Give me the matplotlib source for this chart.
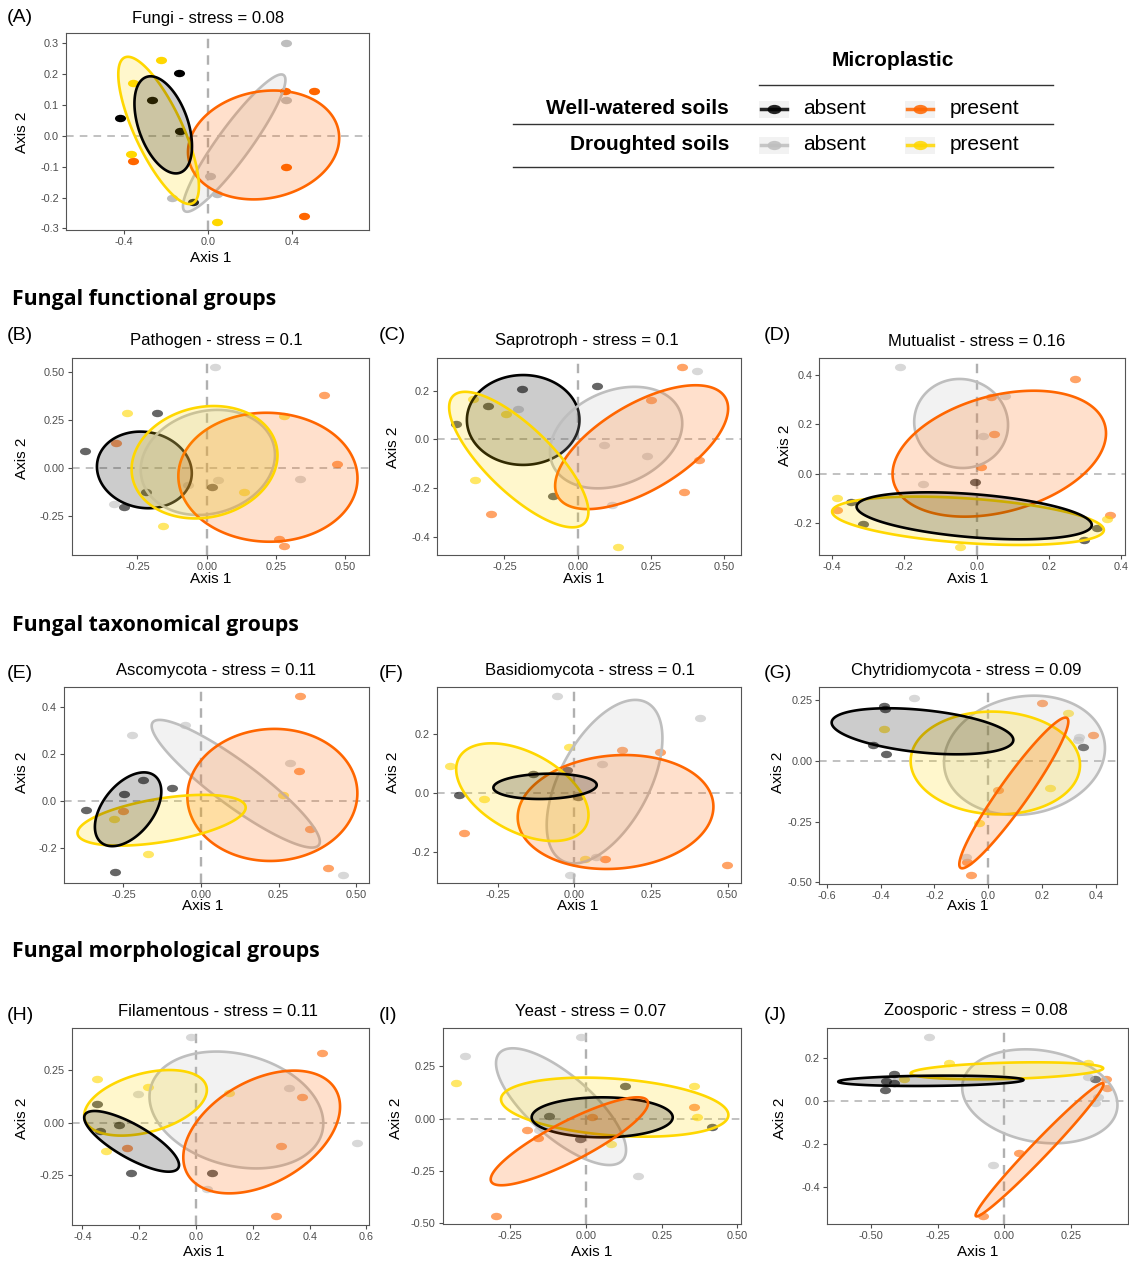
import numpy as np
import matplotlib
matplotlib.use("Agg")
import matplotlib.pyplot as plt
from matplotlib.path import Path
from matplotlib.colors import to_rgba
from matplotlib.patches import Rectangle
from matplotlib import font_manager

# ---------------- data ----------------
# groups: WA = well-watered/absent, WP = well-watered/present,
#         DA = droughted/absent,    DP = droughted/present
# ellipses: (group, centre x, centre y, x half-extent, y half-extent, y-offset of rightmost point)

A_WA = [(-0.419, 0.057), (-0.138, 0.202), (-0.265, 0.116), (-0.133, 0.014), (-0.073, -0.214)]
A_DA = [(0.371, 0.300), (0.371, 0.114), (0.010, -0.129), (-0.170, -0.202), (0.044, -0.190)]
A_DP = [(-0.225, 0.245), (-0.359, 0.170), (-0.368, -0.058), (0.041, -0.278)]
A_WP = [(-0.359, -0.083), (0.367, 0.144), (0.505, 0.144), (0.371, -0.101), (0.459, -0.260)]
A_ELL = [("DA", 0.125, -0.024, 0.244, 0.222, 0.204),
         ("WP", 0.265, -0.030, 0.360, 0.176, 0.023),
         ("DP", -0.235, 0.017, 0.192, 0.238, -0.181),
         ("WA", -0.213, 0.035, 0.137, 0.157, -0.069)]

B_WA = [(-0.4375, 0.090), (-0.180, 0.286), (-0.220, -0.127), (-0.299, -0.203), (0.019, -0.099)]
B_DA = [(0.031, 0.527), (-0.333, -0.185), (0.042, -0.062), (0.337, -0.059), (-0.066, -0.090)]
B_DP = [(-0.287, 0.286), (-0.159, -0.300), (0.136, -0.127), (0.280, 0.270)]
B_WP = [(-0.327, 0.130), (0.421, 0.378), (0.469, 0.021), (0.260, -0.367), (0.279, -0.406)]
B_ELL = [("WA", -0.225, -0.010, 0.171, 0.199, -0.017),
         ("DA", 0.004, 0.029, 0.242, 0.273, 0.039),
         ("WP", 0.2205, -0.048, 0.323, 0.335, -0.006),
         ("DP", -0.008, 0.030, 0.263, 0.292, 0.037)]

C_WA = [(-0.191, 0.206), (-0.3045, 0.139), (-0.415, 0.063), (-0.085, -0.232), (0.067, 0.220)]
C_DA = [(-0.203, 0.126), (0.408, 0.281), (0.090, -0.021), (0.235, -0.067), (0.116, -0.270)]
C_DP = [(-0.356, 0.166), (-0.245, 0.104), (-0.349, -0.166), (0.139, -0.442)]
C_WP = [(0.356, 0.299), (0.250, 0.161), (0.414, -0.084), (0.3625, -0.218), (-0.297, -0.307)]
C_ELL = [("WA", -0.186, 0.080, 0.192, 0.185, 0.0),
         ("DA", 0.131, 0.0075, 0.2256, 0.209, 0.058),
         ("WP", 0.218, -0.032, 0.295, 0.255, 0.159),
         ("DP", -0.201, -0.083, 0.2375, 0.279, -0.215)]

D_WA = [(-0.348, -0.116), (-0.315, -0.2045), (-0.004, -0.032), (0.298, -0.268), (0.332, -0.219)]
D_DA = [(-0.2106, 0.432), (0.077, 0.313), (0.017, 0.152), (-0.149, -0.042)]
D_DP = [(-0.385, -0.0996), (-0.047, -0.295), (0.360, -0.182)]
D_WP = [(0.272, 0.383), (0.039, 0.311), (0.048, 0.159), (0.012, 0.028), (-0.385, -0.147), (0.369, -0.167)]
D_ELL = [("DA", -0.043, 0.2025, 0.1297, 0.1796, -0.006),
         ("WP", 0.0625, 0.0807, 0.295, 0.254, 0.082),
         ("DP", -0.024, -0.190, 0.3756, 0.0975, -0.037),
         ("WA", -0.0069, -0.170, 0.325, 0.0948, -0.037)]

E_WA = [(-0.372, -0.040), (-0.249, 0.028), (-0.186, 0.0865), (-0.0946, 0.054), (-0.277, -0.302)]
E_DA = [(-0.2235, 0.281), (-0.0516, 0.3234), (0.287, 0.162), (0.4566, -0.318)]
E_DP = [(-0.280, -0.078), (-0.170, -0.227), (0.263, 0.024)]
E_WP = [(0.318, 0.445), (0.316, 0.126), (-0.250, -0.044), (0.351, -0.1206), (0.410, -0.289)]
E_ELL = [("DA", 0.112, 0.0716, 0.271, 0.2716, -0.246),
         ("WP", 0.230, 0.024, 0.274, 0.281, 0.007),
         ("DP", -0.127, -0.0837, 0.271, 0.108, 0.054),
         ("WA", -0.235, -0.037, 0.107, 0.157, 0.075)]

F_WA = [(-0.3766, -0.0079), (-0.134, 0.0633), (-0.024, 0.077), (0.013, -0.0136)]
F_DA = [(-0.0577, 0.328), (0.410, 0.254), (0.089, 0.096), (0.0708, -0.217), (-0.013, -0.280)]
F_DP = [(-0.406, 0.090), (-0.294, -0.0215), (-0.016, 0.155), (0.035, -0.225)]
F_WP = [(-0.359, -0.138), (0.157, 0.145), (0.280, 0.138), (0.100, -0.224), (0.4996, -0.244)]
F_ELL = [("DA", 0.0985, 0.0373, 0.1889, 0.277, 0.147),
         ("WP", 0.1344, -0.0655, 0.3195, 0.193, 0.018),
         ("DP", -0.170, 0.0017, 0.216, 0.1655, -0.0774),
         ("WA", -0.0958, 0.0215, 0.1687, 0.0429, 0.0045)]

G_WA = [(-0.3876, 0.2284), (-0.383, 0.215), (-0.427, 0.066), (-0.380, 0.030), (0.353, 0.059)]
G_DA = [(-0.275, 0.260), (0.338, 0.100), (0.335, 0.088), (-0.083, -0.395)]
G_DP = [(-0.389, 0.132), (0.297, 0.1995), (0.229, -0.110), (-0.033, -0.2546)]
G_WP = [(0.2006, 0.241), (0.390, 0.106), (0.037, -0.118), (-0.0805, -0.4156), (-0.064, -0.472)]
G_ELL = [("DA", 0.1344, 0.0234, 0.299, 0.246, 0.029),
         ("DP", 0.026, -0.0083, 0.3146, 0.212, -0.0083),
         ("WA", -0.2446, 0.1225, 0.3375, 0.095, -0.0358),
         ("WP", 0.0947, -0.132, 0.2025, 0.311, 0.2945)]

H_WA = [(-0.3486, 0.0873), (-0.270, -0.0095), (-0.338, -0.038), (-0.229, -0.238), (0.055, -0.238)]
H_DA = [(-0.0176, 0.4095), (-0.203, 0.135), (0.326, 0.1635), (0.566, -0.095), (0.040, -0.317)]
H_DP = [(-0.3486, 0.206), (-0.171, 0.168), (-0.318, -0.133), (0.117, 0.141)]
H_WP = [(0.4425, 0.332), (0.374, 0.122), (-0.244, -0.119), (0.299, -0.111), (0.283, -0.444)]
H_ELL = [("DA", 0.142, 0.0603, 0.306, 0.278, -0.0635),
         ("WP", 0.231, -0.0444, 0.276, 0.292, 0.1206),
         ("DP", -0.178, 0.0944, 0.216, 0.156, 0.061),
         ("WA", -0.227, -0.0889, 0.167, 0.1444, -0.1127)]

I_WA = [(-0.122, 0.0127), (0.129, 0.156), (-0.0198, -0.0987), (0.415, -0.038)]
I_DA = [(-0.0176, 0.392), (-0.400, 0.301), (0.171, -0.274), (-0.155, -0.055)]
I_DP = [(-0.4295, 0.172), (0.357, 0.158), (0.368, 0.0096), (0.0826, -0.1226)]
I_WP = [(0.358, 0.0573), (0.0187, 0.0096), (-0.196, -0.054), (-0.1575, -0.0908), (-0.297, -0.4666)]
I_ELL = [("DA", -0.0826, 0.0573, 0.2148, 0.2787, -0.207),
         ("DP", 0.0947, 0.055, 0.3756, 0.141, -0.0374),
         ("WA", 0.0534, 0.0064, 0.233, 0.0955, 0.0),
         ("WP", -0.055, -0.108, 0.26, 0.210, 0.1815)]

J_WA = [(-0.444, 0.0897), (-0.414, 0.1237), (-0.448, 0.0495), (-0.414, 0.0835), (0.342, 0.099)]
J_DA = [(-0.283, 0.297), (-0.042, -0.300), (0.3145, 0.108), (0.354, 0.0186), (0.342, -0.0124)]
J_DP = [(-0.208, 0.173), (0.316, 0.173), (-0.377, 0.102)]
J_WP = [(0.055, -0.243), (-0.080, -0.535), (0.384, 0.1005), (0.388, 0.0588)]
J_ELL = [("DA", 0.134, 0.0201, 0.2914, 0.218, -0.040),
         ("DP", 0.0106, 0.1384, 0.3613, 0.0394, 0.0116),
         ("WA", -0.275, 0.092, 0.3476, 0.024, 0.004),
         ("WP", 0.133, -0.228, 0.240, 0.309, 0.3039)]

TITLES = ["Fungi - stress = 0.08", "Pathogen - stress = 0.1", "Saprotroph - stress = 0.1",
          "Mutualist - stress = 0.16", "Ascomycota - stress = 0.11", "Basidiomycota - stress = 0.1",
          "Chytridiomycota - stress = 0.09", "Filamentous - stress = 0.11", "Yeast - stress = 0.07",
          "Zoosporic - stress = 0.08"]
LETTERS = ["(A)", "(B)", "(C)", "(D)", "(E)", "(F)", "(G)", "(H)", "(I)", "(J)"]
SECTIONS = ["Fungal functional groups", "Fungal taxonomical groups", "Fungal morphological groups"]
LEGEND_TITLE = "Microplastic"
LEGEND_ROWS = ["Well-watered soils", "Droughted soils"]
LEGEND_LEVELS = ["absent", "present"]

# ---------------- style / layout ----------------
W, H = 1129, 1261
plt.rcParams['font.family'] = ['Liberation Sans', 'DejaVu Sans']
COLORS = {"WA": "#000000", "WP": "#FF6600", "DA": "#BEBEBE", "DP": "#FFD700"}
TXT = "#4D4D4D"


def pick_bold_family():
    for fam in ["Open Sans", "Noto Sans", "Lato", "Roboto"]:
        try:
            fp = font_manager.FontProperties(family=fam, weight="bold")
            path = font_manager.findfont(fp, fallback_to_default=False)
            f = font_manager.get_font(path)
            name = (f.style_name or "").lower()
            if "bold" in name or "black" in name or "semibold" in name:
                return fam
        except Exception:
            pass
    return "Liberation Sans"


HEAD_FAMILY = pick_bold_family()

# elliptical (wide) point marker like the reference
_c = Path.unit_circle()
EMARK = Path(_c.vertices * np.array([1.5, 1.0]), _c.codes)

# per panel: points, ellipses, axes box px (x0,y0,x1,y1), xlim, ylim, xticks, yticks, decimals,
# title pos, axis1 pos, axis2 pos, letter pos, point alpha
PANELS = [
    (A_WA, A_WP, A_DA, A_DP, A_ELL, (66, 33, 369, 230), (-0.676, 0.767), (-0.305, 0.332),
     [-0.4, 0.0, 0.4], [-0.3, -0.2, -0.1, 0.0, 0.1, 0.2, 0.3], 1, 1,
     (208, 18), (211, 258), (22, 132), (7, 18), 1.0),
    (B_WA, B_WP, B_DA, B_DP, B_ELL, (71.7, 358.3, 369, 555), (-0.487, 0.585), (-0.452, 0.570),
     [-0.25, 0, 0.25, 0.5], [-0.25, 0, 0.25, 0.5], 2, 2,
     (216, 341), (211, 579), (22, 458), (7, 336), 0.6),
    (C_WA, C_WP, C_DA, C_DP, C_ELL, (436.7, 358.3, 741, 555), (-0.481, 0.557), (-0.476, 0.334),
     [-0.25, 0, 0.25, 0.5], [-0.4, -0.2, 0, 0.2], 2, 1,
     (587, 341), (584, 579), (393, 447), (379, 336), 0.6),
    (D_WA, D_WP, D_DA, D_DP, D_ELL, (819.3, 358.3, 1125, 555), (-0.435, 0.41), (-0.328, 0.4655),
     [-0.4, -0.2, 0, 0.2, 0.4], [-0.2, 0, 0.2, 0.4], 1, 1,
     (977, 341), (968, 579), (785, 445), (764, 336), 0.6),
    (E_WA, E_WP, E_DA, E_DP, E_ELL, (64, 687.3, 369, 883.3), (-0.4416, 0.5415), (-0.352, 0.482),
     [-0.25, 0, 0.25, 0.5], [-0.2, 0, 0.2, 0.4], 2, 1,
     (216, 670), (203, 906), (22, 772), (7, 673), 0.6),
    (F_WA, F_WP, F_DA, F_DP, F_ELL, (436.7, 687.3, 741, 883.3), (-0.4496, 0.544), (-0.307, 0.357),
     [-0.25, 0, 0.25, 0.5], [-0.2, 0, 0.2], 2, 1,
     (590, 670), (578, 906), (393, 772), (379, 673), 0.6),
    (G_WA, G_WP, G_DA, G_DP, G_ELL, (819.3, 687.3, 1116.7, 884.3), (-0.628, 0.477), (-0.509, 0.304),
     [-0.6, -0.4, -0.2, 0, 0.2, 0.4], [-0.5, -0.25, 0, 0.25], 1, 2,
     (966, 670), (968, 906), (778, 772), (764, 673), 0.6),
    (H_WA, H_WP, H_DA, H_DP, H_ELL, (71.7, 1028.3, 369, 1225), (-0.438, 0.609), (-0.487, 0.449),
     [-0.4, -0.2, 0, 0.2, 0.4, 0.6], [-0.25, 0, 0.25], 1, 2,
     (218, 1011), (204, 1252), (22, 1118), (7, 1015), 0.6),
    (I_WA, I_WP, I_DA, I_DP, I_ELL, (442.7, 1028.3, 741, 1224), (-0.4736, 0.512), (-0.503, 0.4315),
     [-0.25, 0, 0.25, 0.5], [-0.5, -0.25, 0, 0.25], 2, 2,
     (591, 1011), (592, 1252), (396, 1118), (379, 1015), 0.6),
    (J_WA, J_WP, J_DA, J_DP, J_ELL, (826.7, 1028.3, 1128, 1224.3), (-0.666, 0.465), (-0.5737, 0.3356),
     [-0.5, -0.25, 0, 0.25], [-0.4, -0.2, 0, 0.2], 2, 1,
     (976, 1011), (978, 1252), (780, 1118), (764, 1015), 0.6),
]


def ellipse_xy(cx, cy, rx, ry, k, n=240):
    t = np.linspace(0, 2 * np.pi, n)
    m = np.sqrt(max(ry ** 2 - k ** 2, 0.0))
    return cx + rx * np.cos(t), cy + k * np.cos(t) + m * np.sin(t)


def fmt(v, d):
    s = f"{abs(v):.{d}f}"
    return ("-" + s) if v < -1e-12 else s


fig = plt.figure(figsize=(W / 100, H / 100), dpi=100)
fig.patch.set_facecolor("white")

ov = fig.add_axes([0, 0, 1, 1], zorder=10)
ov.set_xlim(0, W)
ov.set_ylim(H, 0)
ov.axis("off")
ov.patch.set_alpha(0)

for i, p in enumerate(PANELS):
    (wa, wp, da, dp, ells, box, xlim, ylim, xt, yt, dx, dy,
     tpos, a1pos, a2pos, lpos, palpha) = p
    x0, y0, x1, y1 = box
    ax = fig.add_axes([x0 / W, 1 - y1 / H, (x1 - x0) / W, (y1 - y0) / H])
    ax.set_xlim(*xlim)
    ax.set_ylim(*ylim)
    ax.axhline(0, color="#B0B0B0", lw=1.1, ls=(0, (5, 4)), zorder=1)
    ax.axvline(0, color="#B0B0B0", lw=1.7, ls=(0, (4, 3)), zorder=1)
    for key, pts in (("WA", wa), ("WP", wp), ("DA", da), ("DP", dp)):
        xs = [q[0] for q in pts]
        ys = [q[1] for q in pts]
        ax.scatter(xs, ys, s=64, marker=EMARK, color=COLORS[key], alpha=palpha,
                   linewidths=0, zorder=2)
    for (key, cx, cy, rx, ry, k) in ells:
        ex, ey = ellipse_xy(cx, cy, rx, ry, k)
        ax.fill(ex, ey, facecolor=to_rgba(COLORS[key], 0.2), edgecolor=COLORS[key],
                lw=1.9, zorder=3)
    ax.set_xticks(xt)
    ax.set_xticklabels([fmt(v, dx) for v in xt])
    ax.set_yticks(yt)
    ax.set_yticklabels([fmt(v, dy) for v in yt])
    ax.tick_params(length=3, width=0.8, color=TXT, labelsize=7.8, labelcolor=TXT, pad=2)
    for sp in ax.spines.values():
        sp.set_color("#555555")
        sp.set_linewidth(0.8)

    ov.text(tpos[0], tpos[1], TITLES[i], fontsize=12, ha="center", va="center", color="black")
    ov.text(a1pos[0], a1pos[1], "Axis 1", fontsize=11, ha="center", va="center")
    ov.text(a2pos[0], a2pos[1], "Axis 2", fontsize=11, ha="center", va="center", rotation=90)
    ov.text(lpos[0], lpos[1], LETTERS[i], fontsize=14, ha="left", va="center")

# section headings
for s, yy in zip(SECTIONS, [300, 626, 951]):
    ov.text(12, yy, s, fontsize=15.3, fontweight="bold", family=[HEAD_FAMILY, "DejaVu Sans"],
            ha="left", va="center")

# legend (table-like)
ov.text(893, 60, LEGEND_TITLE, fontsize=15, fontweight="bold", ha="center", va="center")
ov.plot([759, 1053], [85, 85], color="#333333", lw=1.0)
ov.plot([513, 1053], [124, 124], color="#333333", lw=1.0)
ov.plot([513, 1053], [167, 167], color="#333333", lw=1.0)
rows = [(LEGEND_ROWS[0], 109, ("WA", "WP")), (LEGEND_ROWS[1], 145, ("DA", "DP"))]
for label, yy, keys in rows:
    ov.text(729, yy, label, fontsize=15, fontweight="bold", ha="right", va="center")
    for kx, tx, key, lev in ((759, 803, keys[0], LEGEND_LEVELS[0]),
                             (905, 950, keys[1], LEGEND_LEVELS[1])):
        ov.add_patch(Rectangle((kx, yy - 8.5), 30, 17, facecolor="#F2F2F2", edgecolor="none"))
        ov.plot([kx + 2, kx + 28], [yy, yy], color=COLORS[key], lw=2.5, alpha=0.85)
        ov.scatter([kx + 15], [yy], s=100, marker=EMARK, color=COLORS[key], alpha=0.85,
                   linewidths=0)
        ov.text(tx, yy, lev, fontsize=15, ha="left", va="center")

fig.savefig("out.png", dpi=100, facecolor="white")
